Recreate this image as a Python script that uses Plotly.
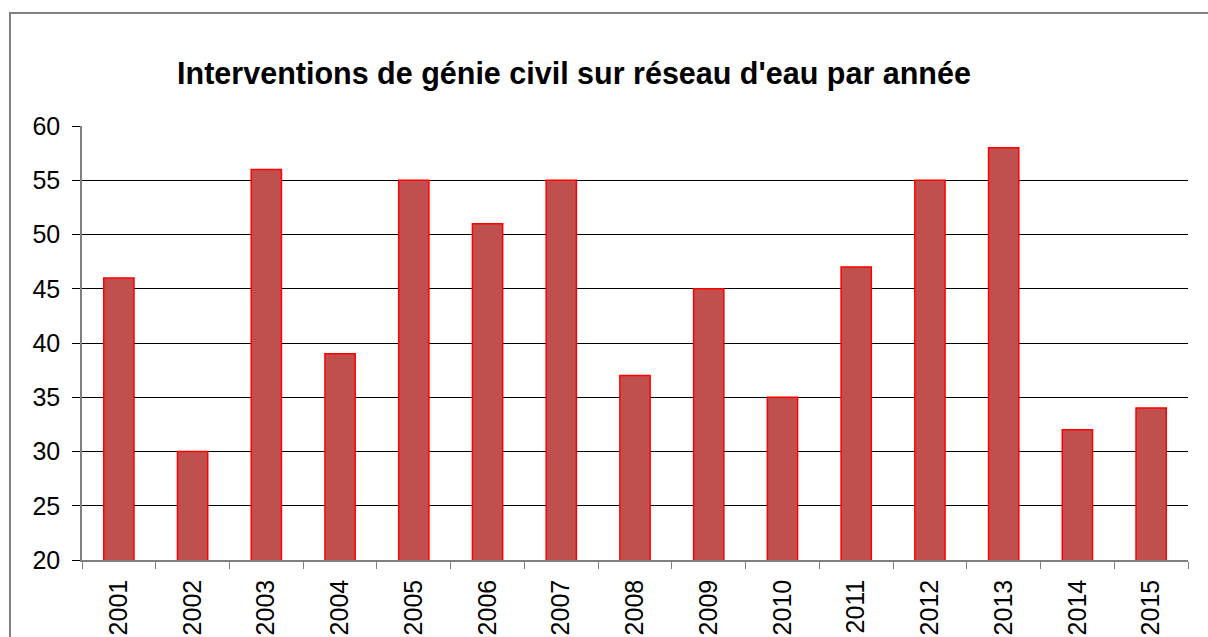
import plotly.graph_objects as go

years = ["2001","2002","2003","2004","2005","2006","2007","2008","2009","2010","2011","2012","2013","2014","2015"]
counts = [46, 30, 56, 39, 55, 51, 55, 37, 45, 35, 47, 55, 58, 32, 34]
title_text = "Interventions de génie civil sur réseau d'eau par année"

fig = go.Figure()
fig.add_trace(go.Bar(
    x=years, y=counts,
    marker=dict(color="#C0504D", line=dict(color="#FF0000", width=1.5)),
))

L, R, T, B = 82, 20, 126, 77
W, H = 1208, 637
pw = W - L - R
ph = H - T - B

fig.update_layout(
    width=W, height=H,
    margin=dict(l=L, r=R, t=T, b=B, pad=0, autoexpand=False),
    paper_bgcolor="white", plot_bgcolor="white",
    bargap=0.59,
    showlegend=False,
    font=dict(family="Liberation Sans, Arial, sans-serif", color="black"),
    title=dict(text="<b>" + title_text + "</b>", x=574 / W, xanchor="center",
               y=1 - 73 / H, yanchor="middle", yref="container", xref="container",
               font=dict(size=30.5, color="black")),
)
fig.update_xaxes(
    type="category", tickangle=-90, tickfont=dict(size=25),
    ticks="outside", tickson="boundaries", ticklen=7, tickcolor="#808080",
    ticklabelstandoff=8, automargin=False,
    showline=True, linecolor="#808080", linewidth=1.5, showgrid=False,
)
fig.update_yaxes(
    range=[20, 60], dtick=5, tick0=20, tickfont=dict(size=25),
    ticks="outside", ticklen=8, tickcolor="black",
    ticklabelstandoff=7, automargin=False,
    showgrid=True, gridcolor="black", gridwidth=1,
    showline=True, linecolor="#808080", linewidth=1.5, zeroline=False,
)
# outer chart border
fig.add_shape(type="rect", xref="paper", yref="paper",
              x0=(10 - L) / pw, x1=(W + 20 - L) / pw,
              y0=(H - B - (H + 20)) / ph, y1=(H - B - 13) / ph,
              line=dict(color="#808080", width=2), fillcolor="rgba(0,0,0,0)", layer="below")
fig.write_html("out.html", config={"displayModeBar": False},
               post_script="document.body.style.margin='0';document.body.style.padding='0';")
